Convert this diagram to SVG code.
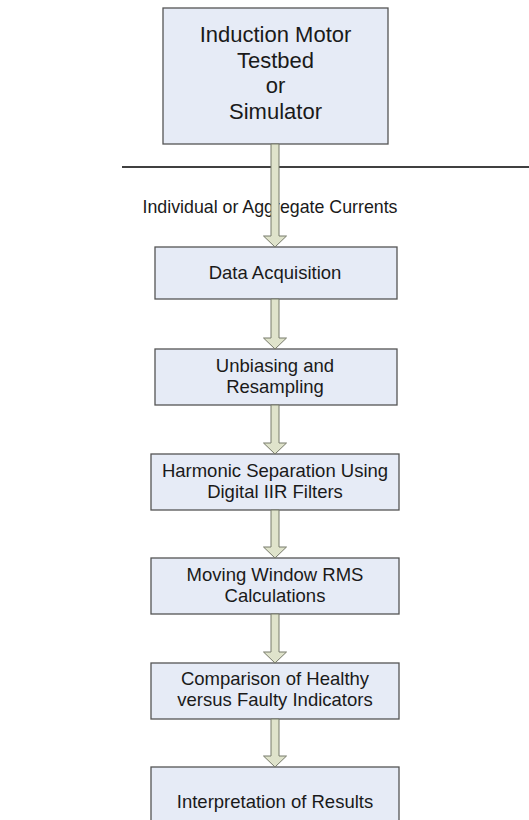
<svg xmlns="http://www.w3.org/2000/svg" width="529" height="820" viewBox="0 0 529 820">
  <style>
    .box { fill: #e6ebf6; stroke: #555; stroke-width: 1.3; }
    .arrow { fill: #dfe3cb; stroke: #777a6a; stroke-width: 1; }
    .t { font-family: "Liberation Sans", Arial, sans-serif; fill: #1a1a1a; text-anchor: middle; }
    .big { font-size: 22px; }
    .mid { font-size: 18.5px; }
    .lbl { font-size: 17.8px; }
  </style>
  <rect width="529" height="820" fill="#fff"/>

  <!-- separator between source and processing chain -->
  <line x1="122" y1="167" x2="529" y2="167" stroke="#000" stroke-width="1.4"/>

  <text class="t lbl" x="270" y="213">Individual or Aggregate Currents</text>

  <g id="source">
    <rect class="box" x="163" y="8" width="225" height="136"/>
    <text class="t big" x="275.5" y="42">Induction Motor</text>
    <text class="t big" x="275.5" y="67.5">Testbed</text>
    <text class="t big" x="275.5" y="93">or</text>
    <text class="t big" x="275.5" y="119">Simulator</text>
  </g>

  <g id="acquisition">
    <rect class="box" x="155" y="247" width="242" height="52"/>
    <text class="t mid" x="275" y="279">Data Acquisition</text>
  </g>

  <g id="unbiasing">
    <rect class="box" x="155" y="349" width="242" height="56"/>
    <text class="t mid" x="275" y="372">Unbiasing and</text>
    <text class="t mid" x="275" y="393">Resampling</text>
  </g>

  <g id="harmonic">
    <rect class="box" x="151" y="454" width="248" height="56"/>
    <text class="t mid" x="275" y="477">Harmonic Separation Using</text>
    <text class="t mid" x="275" y="498">Digital IIR Filters</text>
  </g>

  <g id="rms">
    <rect class="box" x="151" y="558" width="248" height="56"/>
    <text class="t mid" x="275" y="581">Moving Window RMS</text>
    <text class="t mid" x="275" y="602">Calculations</text>
  </g>

  <g id="comparison">
    <rect class="box" x="151" y="663" width="248" height="56"/>
    <text class="t mid" x="275" y="685">Comparison of Healthy</text>
    <text class="t mid" x="275" y="706">versus Faulty Indicators</text>
  </g>

  <g id="interpretation">
    <rect class="box" x="151" y="767" width="248" height="60"/>
    <text class="t mid" x="275" y="808">Interpretation of Results</text>
  </g>

  <!-- block arrows linking the stages -->
  <g id="connectors">
    <polygon class="arrow" points="271,144 279,144 279,236 286.5,236 275,247 263.5,236 271,236"/>
    <polygon class="arrow" points="271,299 279,299 279,338 286.5,338 275,349 263.5,338 271,338"/>
    <polygon class="arrow" points="271,405 279,405 279,443 286.5,443 275,454 263.5,443 271,443"/>
    <polygon class="arrow" points="271,510 279,510 279,547 286.5,547 275,558 263.5,547 271,547"/>
    <polygon class="arrow" points="271,614 279,614 279,652 286.5,652 275,663 263.5,652 271,652"/>
    <polygon class="arrow" points="271,719 279,719 279,756 286.5,756 275,767 263.5,756 271,756"/>
  </g>
</svg>
